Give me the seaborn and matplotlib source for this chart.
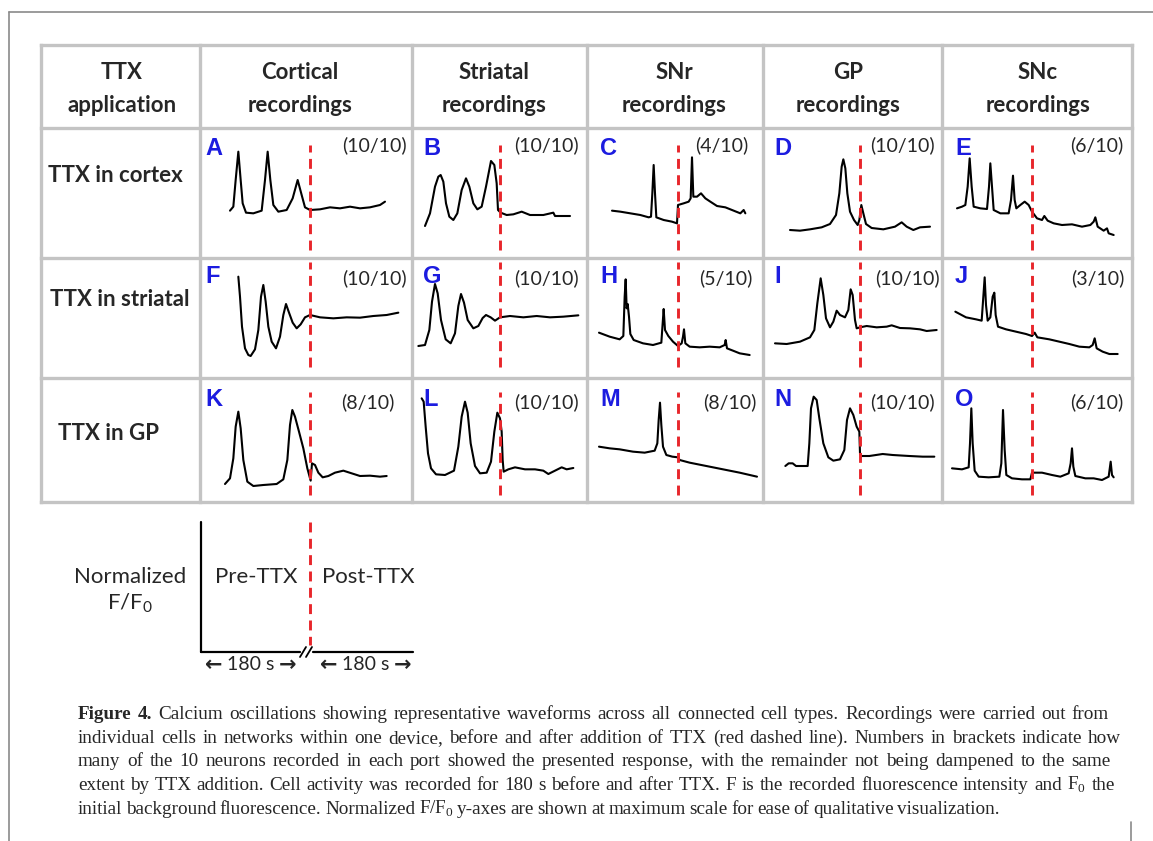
import matplotlib
matplotlib.use("Agg")
import matplotlib.pyplot as plt
import seaborn as sns

# ---- data: time relative to TTX addition (s), normalized F/F0 (arbitrary scale) ----
a_t = [-180, -172.5, -167.25, -161.25, -156, -151.5, -144, -127.5, -108.75, -101.25,
       -95.25, -89.25, -82.5, -71.25, -52.5, -39, -27.75, -18.75, -11.25, 0,
       22.5, 45, 67.5, 90, 112.5, 135, 157.5, 168.75]
a_f = [1.42, 1.54, 2.34, 3.19, 2.34, 1.64, 1.36, 1.34, 1.42, 2.34,
       3.19, 2.34, 1.59, 1.39, 1.44, 1.79, 2.34, 1.89, 1.52, 1.44,
       1.46, 1.52, 1.49, 1.54, 1.49, 1.52, 1.59, 1.69]

b_t = [-168.75, -157.5, -146.25, -138.75, -133.5, -127.5, -121.5, -114, -105, -96,
       -86.25, -76.5, -69, -60, -51, -41.25, -31.5, -20.25, -12.75, -7.5,
       -4.5, 1.5, 15, 30, 48.75, 67.5, 97.5, 120, 123.75, 157.5]
b_f = [0.96, 1.34, 2.14, 2.44, 2.49, 2.29, 1.64, 1.24, 1.14, 1.34,
       2.04, 2.39, 2.14, 1.64, 1.46, 1.54, 2.14, 2.91, 2.79, 2.24,
       1.44, 1.36, 1.29, 1.31, 1.39, 1.29, 1.29, 1.36, 1.26, 1.26]

c_t = [-148.5, -129.75, -107.25, -84.75, -66, -60.75, -57.75, -54.75, -51.75, -48.75,
       -32.25, -13.5, -2.25, 0, 12.75, 24, 28.5, 31.5, 34.5, 42.75,
       51.75, 61.5, 72.75, 87.75, 106.5, 125.25, 140.25, 147.75, 151.5]
c_f = [1.42, 1.39, 1.34, 1.29, 1.22, 1.24, 1.94, 2.79, 1.94, 1.22,
       1.14, 1.09, 1.04, 1.59, 1.64, 1.69, 1.79, 3.02, 1.84, 1.84,
       1.94, 1.79, 1.69, 1.56, 1.52, 1.42, 1.34, 1.44, 1.34]

d_t = [-157.5, -135, -112.5, -86.25, -67.5, -54, -46.5, -41.25, -37.5, -33,
       -28.5, -22.5, -13.5, -5.25, -1.5, 3, 7.5, 13.5, 26.25, 52.5,
       78.75, 93.75, 105, 120, 135, 157.5]
d_f = [0.84, 0.82, 0.86, 0.92, 1.02, 1.29, 1.94, 2.74, 2.96, 2.69,
       1.94, 1.39, 1.14, 0.99, 1.14, 1.59, 1.34, 1.02, 0.90, 0.86,
       0.94, 1.07, 0.94, 0.84, 0.92, 0.94]

e_t = [-168.75, -157.5, -150, -144.75, -140.25, -135.75, -131.25, -116.25, -101.25, -96.75,
       -93.75, -90, -86.25, -71.25, -52.5, -47.25, -42.75, -39, -35.25, -26.25,
       -16.5, -7.5, 0, 11.25, 22.5, 27.75, 35.25, 48.75, 67.5, 90,
       112.5, 131.25, 138.75, 142.5, 147.75, 161.25, 168.75, 172.5, 183.75]
e_f = [1.49, 1.54, 1.59, 2.14, 2.99, 2.14, 1.54, 1.49, 1.47, 2.14,
       2.84, 2.14, 1.44, 1.34, 1.34, 1.74, 2.47, 1.74, 1.49, 1.59,
       1.69, 1.59, 1.39, 1.19, 1.14, 1.26, 1.12, 1.04, 0.99, 1.01,
       0.94, 0.99, 1.09, 1.22, 0.94, 0.82, 0.89, 0.74, 0.69]

f_t = [-161.25, -157.5, -153, -146.25, -138.75, -133.5, -123.75, -116.25, -110.25, -105,
       -99.75, -93.75, -86.25, -76.5, -67.5, -60, -54, -48, -39, -30,
       -21, -11.25, 0, 22.5, 52.5, 82.5, 112.5, 142.5, 172.5, 198.75]
f_f = [3.04, 2.44, 1.54, 0.89, 0.69, 0.66, 0.86, 1.44, 2.44, 2.79,
       2.29, 1.54, 1.09, 0.89, 1.24, 1.89, 2.22, 1.99, 1.66, 1.49,
       1.61, 1.82, 1.89, 1.82, 1.79, 1.82, 1.81, 1.86, 1.89, 1.96]

g_t = [-183.75, -168.75, -159, -153, -146.25, -140.25, -132.75, -122.25, -111, -101.25,
       -93.75, -87.75, -81, -72.75, -60, -48.75, -39, -31.5, -21, -11.25,
       0, 22.5, 52.5, 82.5, 112.5, 142.5, 176.25]
g_f = [0.96, 0.99, 1.44, 2.29, 2.82, 2.54, 1.74, 1.16, 1.04, 1.34,
       2.16, 2.52, 2.26, 1.74, 1.49, 1.56, 1.80, 1.89, 1.82, 1.72,
       1.82, 1.86, 1.82, 1.86, 1.82, 1.84, 1.88]

h_t = [-177.75, -153.75, -131.25, -123, -120, -117.75, -115.5, -113.25, -110.25, -107.25,
       -99.75, -78.75, -56.25, -37.5, -34.5, -32.25, -29.25, -21.75, -11.25, 0,
       8.25, 11.25, 13.5, 16.5, 26.25, 48.75, 71.25, 93.75, 105, 107.25,
       110.25, 123.75, 138.75, 161.25]
h_f = [1.36, 1.24, 1.16, 1.26, 2.44, 2.96, 2.09, 2.22, 1.84, 1.32,
       1.14, 1.04, 0.99, 1.06, 1.64, 2.07, 1.44, 1.26, 1.09, 0.96,
       1.04, 1.24, 1.46, 1.04, 0.94, 0.92, 0.94, 0.92, 0.99, 1.14,
       0.89, 0.82, 0.74, 0.69]

i_t = [-191.25, -165, -135, -112.5, -102.75, -96, -88.5, -82.5, -76.5, -67.5,
       -60, -52.5, -45, -33.75, -26.25, -21, -16.5, -11.25, -7.5, 0,
       15, 37.5, 60, 71.25, 90, 112.5, 135, 150, 172.5]
i_f = [1.04, 1.02, 1.09, 1.22, 1.44, 2.24, 2.99, 2.49, 1.79, 1.52,
       1.69, 2.02, 1.89, 1.82, 2.04, 2.66, 2.49, 1.74, 1.49, 1.52,
       1.56, 1.52, 1.54, 1.58, 1.50, 1.49, 1.46, 1.41, 1.44]

j_t = [-172.5, -148.5, -126, -113.25, -109.5, -106.5, -103.5, -99.75, -93.75, -88.5,
       -84.75, -81.75, -76.5, -58.5, -36, -13.5, 0, 6, 12, 39,
       61.5, 84, 106.5, 129, 136.5, 141, 145.5, 159, 174, 192.75]
j_f = [1.99, 1.82, 1.76, 1.72, 2.44, 3.02, 2.19, 1.72, 1.82, 2.44,
       2.56, 1.89, 1.54, 1.46, 1.39, 1.32, 1.26, 1.36, 1.22, 1.16,
       1.09, 1.02, 0.94, 0.92, 0.99, 1.19, 0.89, 0.79, 0.72, 0.72]

k_t = [-191.25, -180, -172.5, -167.25, -161.25, -156, -150, -141, -127.5, -105,
       -75, -60, -51, -45, -39.75, -33.75, -24.75, -15, -6, 1.5,
       4.5, 11.25, 18.75, 28.5, 41.25, 56.25, 75, 93.75, 112.5, 135,
       157.5, 172.5]
k_f = [0.54, 0.71, 1.31, 2.26, 2.71, 2.21, 1.26, 0.61, 0.48, 0.51,
       0.54, 0.68, 1.26, 2.31, 2.76, 2.56, 2.11, 1.61, 1.01, 0.64,
       1.16, 1.11, 0.88, 0.74, 0.78, 0.88, 0.94, 0.86, 0.78, 0.79,
       0.76, 0.78]

l_t = [-176.25, -171.75, -167.25, -162, -155.25, -144, -123.75, -103.5, -93.75, -86.25,
       -78.75, -72.75, -66, -56.25, -45, -30, -20.25, -12.75, -6, 0,
       3.75, 6, 8.25, 18.75, 33.75, 56.25, 78.75, 97.5, 108.75, 123.75,
       138.75, 150, 165]
l_f = [3.11, 3.01, 2.26, 1.46, 1.01, 0.83, 0.81, 0.94, 1.66, 2.56,
       3.01, 2.68, 1.76, 1.08, 0.86, 0.88, 1.21, 2.11, 2.68, 2.51,
       2.11, 1.26, 0.91, 0.98, 1.04, 0.98, 0.98, 0.94, 0.84, 0.94,
       1.04, 0.98, 1.02]

m_t = [-177.75, -153.75, -131.25, -101.25, -75, -52.5, -46.5, -43.5, -40.5, -37.5,
       -33.75, -26.25, -12.75, 0, 3.75, 26.25, 63.75, 101.25, 138.75, 177.75]
m_f = [1.66, 1.61, 1.58, 1.51, 1.48, 1.54, 1.76, 2.46, 2.98, 2.31,
       1.66, 1.41, 1.36, 1.34, 1.26, 1.18, 1.08, 0.98, 0.88, 0.76]

n_t = [-168, -160.5, -151.5, -144, -117.75, -114, -110.25, -104.25, -97.5, -91.5,
       -82.5, -71.25, -60, -45, -35.25, -29.25, -22.5, -15, -7.5, -1.5,
       0, 3, 21, 51, 73.5, 111, 141, 167.25]
n_f = [1.08, 1.16, 1.16, 1.08, 1.08, 1.76, 2.81, 3.16, 3.06, 2.51,
       1.76, 1.34, 1.24, 1.28, 1.56, 2.46, 2.81, 2.61, 2.26, 2.11,
       1.46, 1.38, 1.38, 1.44, 1.41, 1.38, 1.36, 1.36]

o_t = [-180, -157.5, -142.5, -139.5, -136.5, -133.5, -129, -120, -97.5, -73.5,
       -69, -65.25, -61.5, -57.75, -45, -22.5, -3.75, 0, 22.5, 45,
       63.75, 82.5, 87, 90, 93, 97.5, 120, 138.75, 157.5, 172.5,
       177, 180, 183.75]
o_f = [1.01, 0.98, 1.04, 1.76, 2.81, 1.76, 0.94, 0.76, 0.74, 0.76,
       1.16, 2.76, 1.56, 0.81, 0.71, 0.68, 0.68, 0.88, 0.88, 0.81,
       0.76, 0.86, 1.16, 1.61, 1.06, 0.78, 0.71, 0.71, 0.66, 0.76,
       1.21, 0.81, 0.74]

col_heads = [("TTX", "application"), ("Cortical", "recordings"), ("Striatal", "recordings"),
             ("SNr", "recordings"), ("GP", "recordings"), ("SNc", "recordings")]
row_heads = ["TTX in cortex", "TTX in striatal", "TTX in GP"]
letters = [["A", "B", "C", "D", "E"], ["F", "G", "H", "I", "J"], ["K", "L", "M", "N", "O"]]
counts = [["(10/10)", "(10/10)", "(4/10)", "(10/10)", "(6/10)"],
          ["(10/10)", "(10/10)", "(5/10)", "(10/10)", "(3/10)"],
          ["(8/10)", "(10/10)", "(8/10)", "(10/10)", "(6/10)"]]
traces = [[(a_t, a_f), (b_t, b_f), (c_t, c_f), (d_t, d_f), (e_t, e_f)],
          [(f_t, f_f), (g_t, g_f), (h_t, h_f), (i_t, i_f), (j_t, j_f)],
          [(k_t, k_f), (l_t, l_f), (m_t, m_f), (n_t, n_f), (o_t, o_f)]]

caption = [
    "Figure 4. Calcium oscillations showing representative waveforms across all connected cell types. Recordings were carried out from",
    "individual cells in networks within one device, before and after addition of TTX (red dashed line). Numbers in brackets indicate how",
    "many of the 10 neurons recorded in each port showed the presented response, with the remainder not being dampened to the same",
    r"extent by TTX addition. Cell activity was recorded for 180  s before and after TTX. F is the recorded fluorescence intensity and F$_\mathregular{0}$ the",
    r"initial background fluorescence. Normalized F/F$_\mathregular{0}$ y-axes are shown at maximum scale for ease of qualitative visualization.",
]

# ---- style ----
sns.set_style("white")
plt.rcParams["font.family"] = ["Lato", "DejaVu Sans"]
SANS = ["Lato", "DejaVu Sans"]
SERIF = ["Liberation Serif", "DejaVu Serif"]
GRID = "#c4c4c4"
RED = "#e8262b"
BLUE = "#1c1ce0"

W, H = 1153, 841
fig = plt.figure(figsize=(W / 100, H / 100), dpi=100)
bg = fig.add_axes([0, 0, 1, 1])
bg.set_xlim(0, W)
bg.set_ylim(H, 0)
bg.axis("off")

# page frame
bg.plot([9, 9], [12, H], color="#8a8a8a", lw=1.2)
bg.plot([9, W], [12, 12], color="#8a8a8a", lw=1.2)
bg.plot([1131, 1131], [822, H], color="#8a8a8a", lw=1.2)

# table grid
col_x = [41, 200, 412, 587, 763, 942, 1132]
row_y = [45, 128, 258, 378, 502]
for x in col_x:
    bg.plot([x, x], [row_y[0], row_y[-1]], color=GRID, lw=2.4, solid_capstyle="projecting")
for y in row_y:
    bg.plot([col_x[0], col_x[-1]], [y, y], color=GRID, lw=2.4, solid_capstyle="projecting")

head_cx = [122, 300, 494, 674, 848, 1038]
for cx, (l1, l2) in zip(head_cx, col_heads):
    bg.text(cx, 72, l1, ha="center", va="center", fontsize=16, weight="bold", family=SANS)
    bg.text(cx, 105, l2, ha="center", va="center", fontsize=16, weight="bold", family=SANS)

row_lx = [48, 50, 58]
row_ly = [175, 300, 433]
for lx, ly, lab in zip(row_lx, row_ly, row_heads):
    bg.text(lx, ly, lab, ha="left", va="center", fontsize=16, weight="bold", family=SANS)

# panels
ttx_px = [310, 500, 678, 860, 1032]
letter_x = [205, 423, 600, 774, 955]
letter_y = [137, 265, 388]
frac_right = [[407, 579, 748, 935, 1123], [407, 579, 753, 940, 1125], [395, 579, 757, 935, 1123]]
frac_y = [145, 278, 402]
dash_span = [(0.06, 0.87), (0.09, 0.97), (0.06, 0.89)]
S_PER_PX = 2.25

for r in range(3):
    for c in range(5):
        x0, x1 = col_x[c + 1], col_x[c + 2]
        y0, y1 = row_y[r + 1], row_y[r + 2]
        ax = fig.add_axes([x0 / W, 1 - y1 / H, (x1 - x0) / W, (y1 - y0) / H])
        ax.patch.set_alpha(0)
        t, f = traces[r][c]
        sns.lineplot(x=t, y=f, ax=ax, color="black", linewidth=1.5,
                     estimator=None, sort=False, legend=False)
        ax.axvline(0, ymin=dash_span[r][0], ymax=dash_span[r][1], color=RED,
                   lw=2.1, dashes=(3.4, 2.2), zorder=3)
        ax.set_xlim((x0 - ttx_px[c]) * S_PER_PX, (x1 - ttx_px[c]) * S_PER_PX)
        ax.set_ylim(0, (y1 - y0) * 0.03)
        ax.axis("off")
        bg.text(letter_x[c], letter_y[r], letters[r][c], ha="left", va="top", fontsize=17,
                weight="bold", color=BLUE, family=["Liberation Sans", "DejaVu Sans"])
        bg.text(frac_right[r][c], frac_y[r], counts[r][c], ha="right", va="center",
                fontsize=14, family=SANS)

# legend sketch
bg.text(130, 577, "Normalized", ha="center", va="center", fontsize=16, family=SANS)
bg.text(130, 603, r"F/F$_\mathregular{0}$", ha="center", va="center", fontsize=16, family=SANS)
bg.text(256, 577, "Pre-TTX", ha="center", va="center", fontsize=16, family=SANS)
bg.text(368, 577, "Post-TTX", ha="center", va="center", fontsize=16, family=SANS)
bg.plot([201, 201], [522, 652], color="black", lw=1.6)
bg.plot([201, 300], [652, 652], color="black", lw=1.6)
bg.plot([313, 413], [652, 652], color="black", lw=1.6)
bg.plot([300, 306], [657, 647], color="black", lw=1.3)
bg.plot([306, 312], [657, 647], color="black", lw=1.3)
bg.plot([310, 310], [522, 645], color=RED, lw=2.1, dashes=(3.4, 2.2))
for cx in (251, 366):
    bg.text(cx - 37, 665, "\u2190", ha="center", va="center", fontsize=15, weight="bold",
            family=["DejaVu Sans"])
    bg.text(cx, 665, "180 s", ha="center", va="center", fontsize=14, family=SANS)
    bg.text(cx + 37, 665, "\u2192", ha="center", va="center", fontsize=15, weight="bold",
            family=["DejaVu Sans"])

# caption, justified (last line set with plain spacing)
renderer = fig.canvas.get_renderer()
base_y = [719, 743, 766, 790, 814]
right_x = [1109, 1121, 1111, 1115, None]
CAP_FS = 13.75
for i, line in enumerate(caption):
    words = line.split()
    items = []
    for j, w in enumerate(words):
        bold = i == 0 and j < 2
        items.append(bg.text(0, base_y[i], w, ha="left", va="baseline", fontsize=CAP_FS,
                             weight="bold" if bold else "normal", family=SERIF))
    widths = [it.get_window_extent(renderer).width for it in items]
    if right_x[i] is None:
        gap = 3.5
    else:
        gap = (right_x[i] - 78 - sum(widths)) / (len(words) - 1)
    x = 78
    for it, w in zip(items, widths):
        it.set_x(x)
        x += w + gap

fig.savefig("out.png", dpi=100)
